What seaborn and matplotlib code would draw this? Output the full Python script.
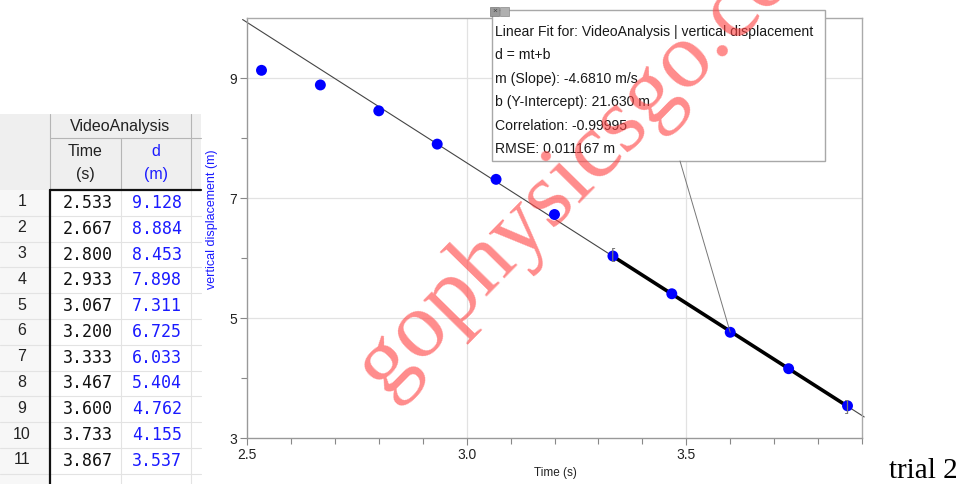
import numpy as np
import pandas as pd
import matplotlib
matplotlib.use("Agg")
import matplotlib.pyplot as plt
from matplotlib.patches import Rectangle, ConnectionPatch
import seaborn as sns

# ---------------- data ----------------
time_s = [2.533, 2.667, 2.800, 2.933, 3.067, 3.200, 3.333, 3.467, 3.600, 3.733, 3.867]
disp_m = [9.128, 8.884, 8.453, 7.898, 7.311, 6.725, 6.033, 5.404, 4.762, 4.155, 3.537]
row_ids = list(range(1, 12))
slope = -4.6810
intercept = 21.630
fit_start, fit_end = 3.333, 3.867
x_ticks = [2.5, 3.0, 3.5]
x_tick_labels = ["2.5", "3.0", "3.5"]
y_ticks = [3, 5, 7, 9]
y_tick_labels = ["3", "5", "7", "9"]
box_lines = [
    "Linear Fit for: VideoAnalysis | vertical displacement",
    "d = mt+b",
    "m (Slope): -4.6810 m/s",
    "b (Y-Intercept): 21.630 m",
    "Correlation: -0.99995",
    "RMSE: 0.011167 m",
]

df = pd.DataFrame({"t": time_s, "d": disp_m})

sns.set_theme(style="white")
plt.rcParams["font.family"] = ["Liberation Sans", "DejaVu Sans"]

W, H = 960, 484
fig = plt.figure(figsize=(9.6, 4.84), dpi=100)
fig.patch.set_facecolor("white")

L, R, T, B = 247, 862, 18, 438
ax = fig.add_axes([L / W, 1 - B / H, (R - L) / W, (B - T) / H])
ax.set_xlim(2.5, 3.9)
ax.set_ylim(3, 10)

# grid
for gx in [3.0, 3.5]:
    ax.axvline(gx, color="#e2e2e2", lw=0.9, zorder=0)
for gy in [5, 7, 9]:
    ax.axhline(gy, color="#e2e2e2", lw=0.9, zorder=0)

# full fit line (thin)
tl = np.array([2.49, 3.905])
fit_full = pd.DataFrame({"t": tl, "d": slope * tl + intercept})
sns.lineplot(data=fit_full, x="t", y="d", ax=ax, color="#444444", lw=0.8, zorder=2)
ax.lines[-1].set_clip_on(False)
# selected range (thick)
ts = np.array([fit_start, fit_end])
fit_sel = pd.DataFrame({"t": ts, "d": slope * ts + intercept})
sns.lineplot(data=fit_sel, x="t", y="d", ax=ax, color="black", lw=2.6, zorder=3)

# points
sns.scatterplot(data=df, x="t", y="d", ax=ax, color="#0000ff", s=62,
                edgecolor="none", zorder=4)

# range brackets
ax.text(fit_start - 0.004, slope * fit_start + intercept + 0.03, "[", color="#777777",
        fontsize=11, ha="left", va="center", zorder=5)
ax.text(fit_end + 0.004, slope * fit_end + intercept - 0.02, "]", color="#777777",
        fontsize=11, ha="right", va="center", zorder=5)

# ticks
ax.set_xticks(x_ticks)
ax.set_xticklabels(x_tick_labels)
ax.set_xticks(np.round(np.arange(2.5, 3.91, 0.1), 2), minor=True)
ax.set_yticks(y_ticks)
ax.set_yticklabels(y_tick_labels)
ax.set_yticks([4, 6, 8], minor=True)
ax.tick_params(axis="both", which="major", direction="out", length=5, width=0.8,
               color="#888888", labelsize=10, labelcolor="#222222", pad=2,
               bottom=True, left=True)
ax.tick_params(axis="both", which="minor", direction="out", length=4, width=0.8,
               color="#888888", bottom=True, left=True)
for sp in ax.spines.values():
    sp.set_color("#aaaaaa")
    sp.set_linewidth(1.0)
ax.spines["left"].set_color("#999999")
ax.spines["bottom"].set_color("#999999")

ax.set_xlabel("Time (s)", fontsize=8.5, color="#222222")
ax.set_ylabel("vertical displacement (m)", fontsize=9, color="#1a1aff")
ax.xaxis.set_label_coords((555 - L) / (R - L), (B - 467) / (B - T))
ax.yaxis.set_label_coords((218 - L) / (R - L), (B - 219) / (B - T))
ax.xaxis.label.set_va("top")

# ---------------- overlay (pixel coordinates) ----------------
ov = fig.add_axes([0, 0, 1, 1])
ov.set_xlim(0, W)
ov.set_ylim(H, 0)
ov.axis("off")
ov.patch.set_alpha(0)

# ---- data table ----
c0, c1, c2, c3, c4 = 0, 50, 121, 191, 201
h0, h1, h2 = 114, 138, 190
row_h = 25.8
hdr = "#efefef"
ov.add_patch(Rectangle((c0, h0), c4 - c0, h2 - h0, facecolor=hdr, edgecolor="none"))
ov.add_patch(Rectangle((c0, h2), c1 - c0, H - h2, facecolor="#f7f7f7", edgecolor="none"))
ov.plot([c1, c1], [h0, h2], color="#b5b5b5", lw=0.8)
ov.plot([c3, c3], [h0, h2], color="#b5b5b5", lw=0.8)
ov.plot([c2, c2], [h1, h2], color="#b5b5b5", lw=0.8)
ov.plot([c1, c4], [h1, h1], color="#b5b5b5", lw=0.8)
ov.text((c1 + c3) / 2, (h0 + h1) / 2 + 1, "VideoAnalysis", ha="center", va="center",
        fontsize=11.5, color="#222222")
ov.text((c1 + c2) / 2, 152, "Time", ha="center", va="center", fontsize=11.5, color="#222222")
ov.text((c1 + c2) / 2, 175, "(s)", ha="center", va="center", fontsize=11.5, color="#222222")
ov.text((c2 + c3) / 2, 152, "d", ha="center", va="center", fontsize=11.5, color="#1a1aff")
ov.text((c2 + c3) / 2, 175, "(m)", ha="center", va="center", fontsize=11.5, color="#1a1aff")
for i, (rid, t, d) in enumerate(zip(row_ids, time_s, disp_m)):
    y_top = h2 + i * row_h
    yc = y_top + row_h / 2
    ov.plot([c0, c4], [y_top + row_h, y_top + row_h], color="#e3e3e3", lw=0.8)
    ov.text(22, yc - 1, str(rid), ha="center", va="center", fontsize=11.5, color="#222222")
    ov.text((c1 + c2) / 2 + 2, yc, f"{t:.3f}", ha="center", va="center", fontsize=12,
            family="DejaVu Sans Mono", color="#111111")
    ov.text((c2 + c3) / 2 + 1, yc, f"{d:.3f}", ha="center", va="center", fontsize=12,
            family="DejaVu Sans Mono", color="#1a1aff")
ov.plot([c2, c2], [h2, H], color="#e3e3e3", lw=0.8)
ov.plot([c3, c3], [h2, H], color="#e3e3e3", lw=0.8)
ov.plot([c1, c1], [h2, H], color="#111111", lw=1.6)
ov.plot([c1, c4], [h2, h2], color="#111111", lw=1.6)

# ---- linear fit box ----
bx0, by0, bx1, by1 = 492, 10, 825, 161
ov.add_patch(Rectangle((bx0, by0), bx1 - bx0, by1 - by0, facecolor="white",
                       edgecolor="#a8a8a8", lw=1.0, zorder=5))
ov.add_patch(Rectangle((490, 7), 9, 9, facecolor="#9a9a9a", edgecolor="#777777", lw=0.5, zorder=6))
ov.add_patch(Rectangle((500, 7), 9, 9, facecolor="#b0b0b0", edgecolor="#888888", lw=0.5, zorder=6))
ov.text(494.5, 11.3, "×", ha="center", va="center", fontsize=6, color="#444444", zorder=7)
for k, txt in enumerate(box_lines):
    ov.text(495, 32 + k * 23.4, txt, ha="left", va="center", fontsize=10.1,
            color="#1a1a1a", zorder=7)
con = ConnectionPatch(xyA=(time_s[8], disp_m[8]), coordsA=ax.transData,
                      xyB=(680, by1), coordsB=ov.transData, color="#777777", lw=0.7,
                      zorder=4)
fig.add_artist(con)

# ---- watermark ----
ov.text(386, 396, "gophysicsgo.com", rotation=45.5, rotation_mode="anchor",
        ha="left", va="baseline", fontsize=68, family="Liberation Serif",
        color="#ff4545", alpha=0.62, zorder=10)

# ---- trial label ----
ov.text(958, 478, "trial 2", ha="right", va="baseline", fontsize=21,
        family="Liberation Serif", color="black")

fig.savefig("out.png", dpi=100, facecolor="white")
